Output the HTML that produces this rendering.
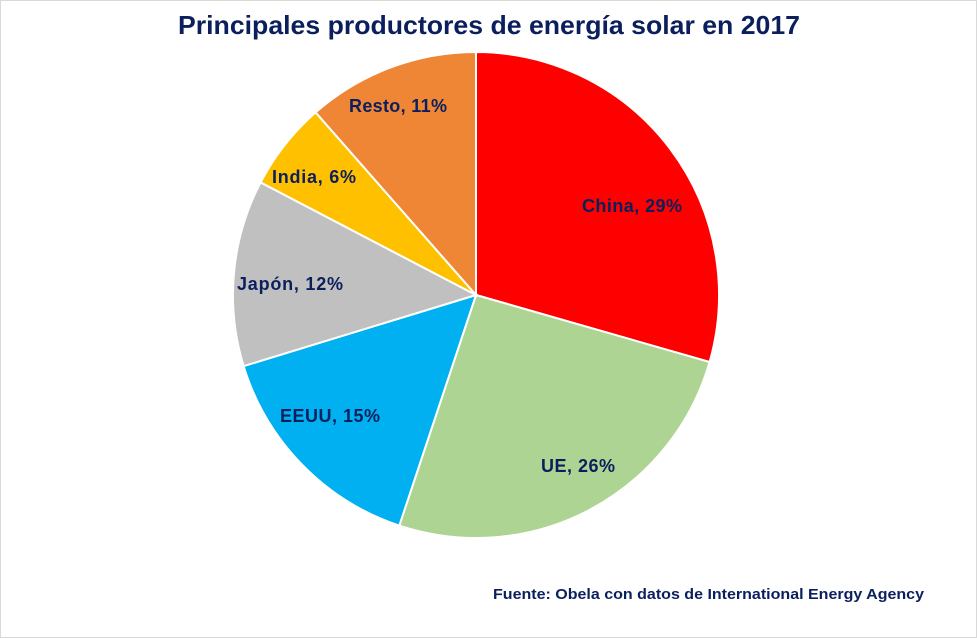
<!DOCTYPE html>
<html><head><meta charset="utf-8"><style>
body{margin:0;background:#fff}
svg{display:block}
text{font-family:"Liberation Sans",Arial,sans-serif;font-weight:bold;fill:#0b1f5c}
</style></head><body>
<svg width="977" height="638" viewBox="0 0 977 638">
<rect x="0.5" y="0.5" width="976" height="637" fill="#fff" stroke="#d9d9d9"/>
<text x="178" y="34" font-size="26" textLength="622" lengthAdjust="spacingAndGlyphs">Principales productores de energía solar en 2017</text>
<g stroke="#fff" stroke-width="2">
<path d="M476,295 L476,52 A243,243 0 0 1 709.6,362 Z" fill="#ff0000"/>
<path d="M476,295 L709.6,362 A243,243 0 0 1 399.3,525.6 Z" fill="#aed494"/>
<path d="M476,295 L399.3,525.6 A243,243 0 0 1 243.6,366.1 Z" fill="#00b0f0"/>
<path d="M476,295 L243.6,366.1 A243,243 0 0 1 260.6,182.4 Z" fill="#c0c0c0"/>
<path d="M476,295 L260.6,182.4 A243,243 0 0 1 315.6,112.4 Z" fill="#ffc000"/>
<path d="M476,295 L315.6,112.4 A243,243 0 0 1 476,52 Z" fill="#ef8636"/>
</g>
<g font-size="18" lengthAdjust="spacingAndGlyphs">
<text x="582" y="212" textLength="100">China, 29%</text>
<text x="541" y="472" textLength="74">UE, 26%</text>
<text x="280" y="422" textLength="100">EEUU, 15%</text>
<text x="237" y="290" textLength="106">Japón, 12%</text>
<text x="272" y="183" textLength="84">India, 6%</text>
<text x="349" y="112" textLength="98">Resto, 11%</text>
</g>
<text x="493" y="599" font-size="15" textLength="431" lengthAdjust="spacingAndGlyphs">Fuente: Obela con datos de International Energy Agency</text>
</svg>
</body></html>
